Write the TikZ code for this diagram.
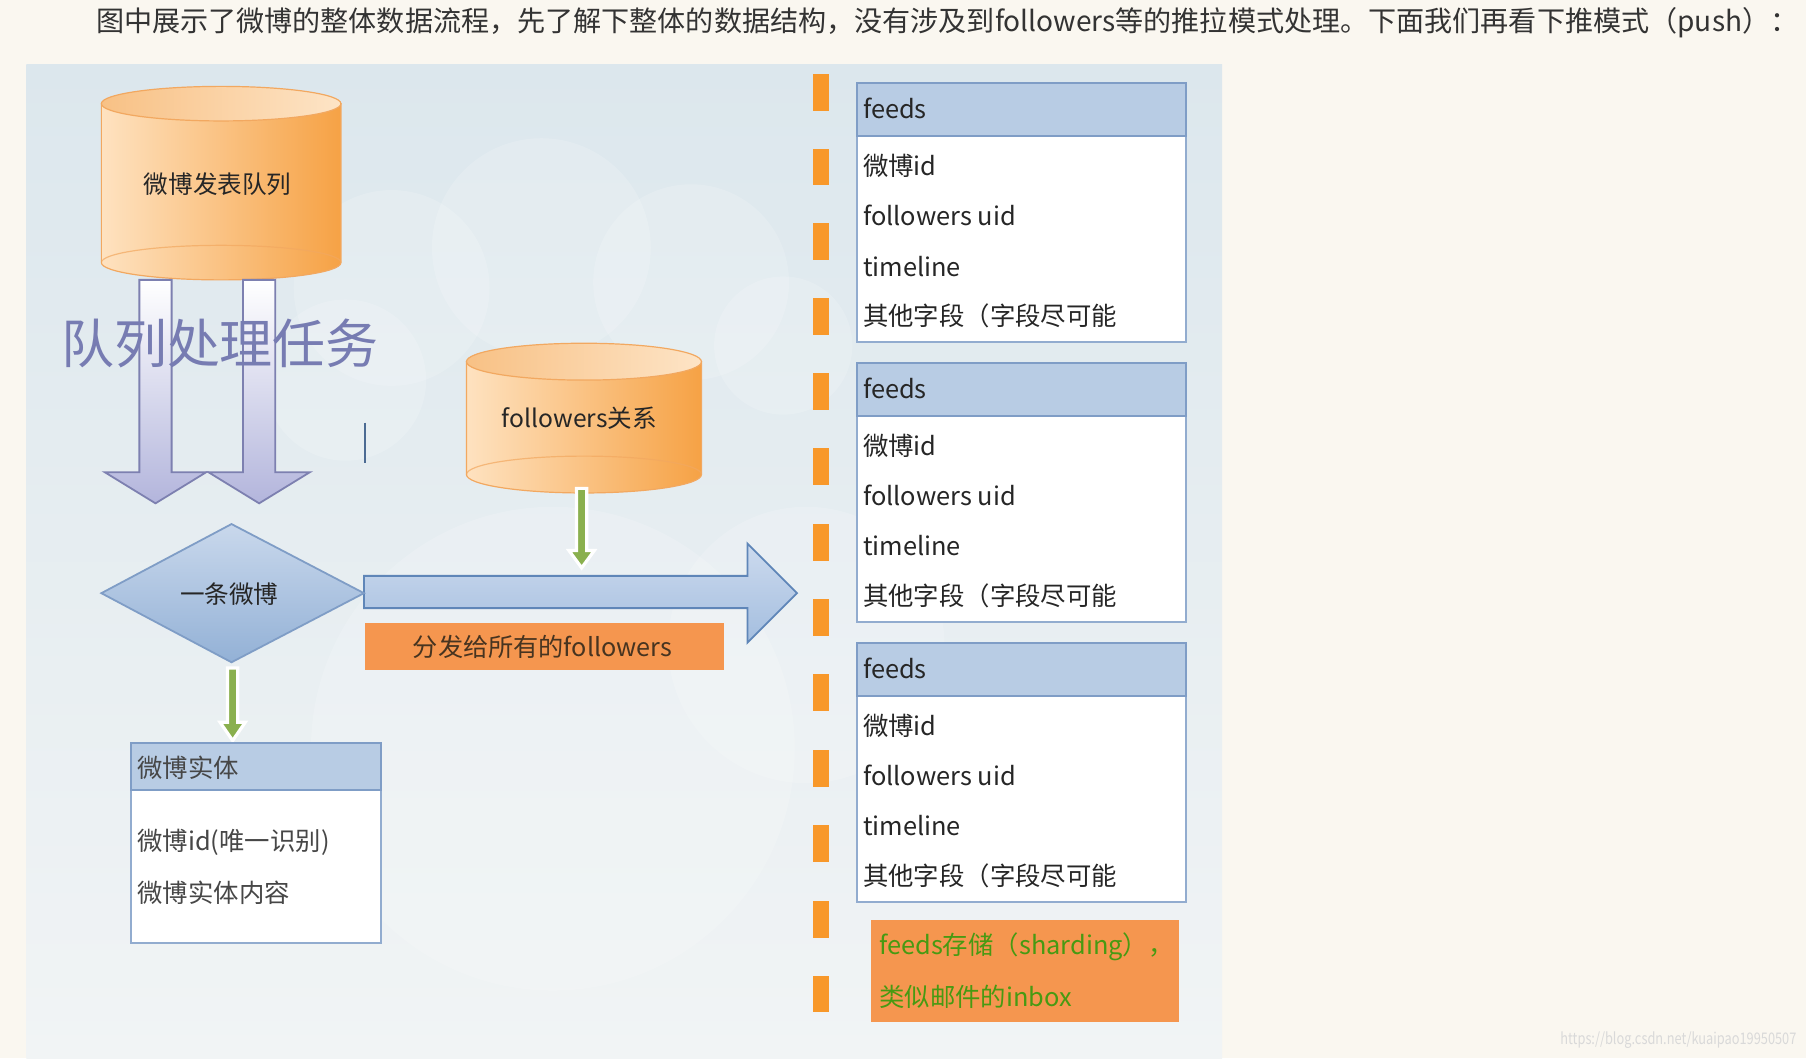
\documentclass[tikz,border=0pt]{standalone}
\usepackage{fontspec}
\usepackage{graphicx}
\setmainfont{Noto Sans CJK SC}
\usetikzlibrary{shapes.geometric}
\definecolor{pagebg}{HTML}{FAF7F0}
\definecolor{paneltop}{HTML}{DCE7ED}
\definecolor{panelbot}{HTML}{F1F4F5}
\definecolor{cylL}{HTML}{FEE2C0}
\definecolor{cylR}{HTML}{F6A245}
\definecolor{capL}{HTML}{F8C185}
\definecolor{capR}{HTML}{FDE4C6}
\definecolor{cylline}{HTML}{F2A860}
\definecolor{lavline}{HTML}{7D80B0}
\definecolor{lavfill}{HTML}{B3B5DC}
\definecolor{lavtext}{HTML}{777CB2}
\definecolor{hdrblue}{HTML}{B8CCE4}
\definecolor{boxline}{HTML}{7F9DC6}
\definecolor{diatop}{HTML}{C9D8EC}
\definecolor{diabot}{HTML}{93B1D6}
\definecolor{arrtop}{HTML}{CCDAEE}
\definecolor{arrbot}{HTML}{A4BEDF}
\definecolor{arrline}{HTML}{5F86B8}
\definecolor{grn}{HTML}{8AB04E}
\definecolor{orng}{HTML}{F5964F}
\definecolor{dashor}{HTML}{F8982A}
\definecolor{txt}{HTML}{262626}
\definecolor{hdrtxt}{HTML}{333333}
\definecolor{inboxtxt}{HTML}{479A12}
\newcommand\mycyl[5]{%
  \shade[left color=cylL, right color=cylR, draw=cylline, line width=0.6]
    (#1-#4,#2) -- (#1-#4,#3) arc[start angle=180, end angle=0, x radius=#4, y radius=#5] -- (#1+#4,#2) -- cycle;
  \draw[cylline, line width=0.6, opacity=0.7] (#1-#4,#3) arc[start angle=180, end angle=360, x radius=#4, y radius=#5];
  \shade[left color=capL, right color=capR, draw=cylline, line width=0.6] (#1,#2) ellipse[x radius=#4, y radius=#5];
}
\tikzset{
  tabhead/.style={fill=hdrblue, draw=boxline, line width=1.1},
  tabbody/.style={fill=white, draw=boxline!85, line width=1.1},
  rowtxt/.style={anchor=west, inner sep=0, text=txt, font=\fontsize{12.7pt}{14pt}\selectfont},
  lavarrow/.style={top color=white, bottom color=lavfill, draw=lavline, line width=0.9},
  grnarrow/.style={fill=grn, draw=white, line width=1.6},
  dashbar/.style={fill=dashor},
}
\begin{document}
\begin{tikzpicture}[x=0.576pt, y=-0.576pt]
\useasboundingbox (0,0) rectangle (1568,918.6);
\fill[pagebg] (0,0) rectangle (1568,918.6);
% header
\node[anchor=west, inner sep=0, text=hdrtxt, font=\fontsize{14.05pt}{15pt}\selectfont] (hdr) at (83,20)
  {图中展示了微博的整体数据流程，先了解下整体的数据结构，没有涉及到followers等的推拉模式处理。下面我们再看下推模式（push）：};
% panel
\shade[top color=paneltop, bottom color=panelbot] (23,56) rectangle (1061,918.6);
% faint clouds
\begin{scope}[white, opacity=0.16]
  \fill (340,250) circle[radius=85];
  \fill (470,215) circle[radius=95];
  \fill (600,245) circle[radius=85];
  \fill (300,330) circle[radius=70];
  \fill (680,300) circle[radius=60];
  \fill (480,650) ellipse[x radius=210, y radius=210];
  \fill (700,560) circle[radius=120];
\end{scope}
% cylinder 1
\mycyl{192}{90}{228}{104}{15}
\node[text=txt, font=\fontsize{12.3pt}{14pt}\selectfont] (q1) at (189,160) {微博发表队列};
% lavender arrows
\path[lavarrow] (121,243) -- (121,410) -- (91,410) -- (135,437) -- (179,410) -- (149,410) -- (149,243) -- cycle;
\path[lavarrow] (211,243) -- (211,410) -- (181,410) -- (225,437) -- (269,410) -- (239,410) -- (239,243) -- cycle;
\node[text=lavtext, font=\fontsize{26.5pt}{28pt}\selectfont, inner sep=0] (task) at (191,298) {队列处理任务};
% stray cursor line
\draw[color=arrline!80!black, line width=1.1] (317,367) coordinate (c1) -- (317,402) coordinate (c2);
% cylinder 2
\mycyl{507}{314}{412}{102}{16}
\node[text=txt, font=\fontsize{12.3pt}{14pt}\selectfont] (fol) at (503,363) {followers关系};
% green arrow from followers
\path[grnarrow] (500.5,424) -- (500.5,478) -- (494,478) -- (505,493) -- (516,478) -- (509.5,478) -- (509.5,424) -- cycle;
% big right arrow
\shade[top color=arrtop, bottom color=arrbot, draw=arrline, line width=0.9]
  (316,500) -- (649,500) -- (649,472) -- (692,515) -- (649,558) -- (649,528) -- (316,528) -- cycle;
% diamond
\shade[top color=diatop, bottom color=diabot, draw=boxline, line width=0.9]
  (88,515) -- (201,455) -- (316,515) -- (201,575) -- cycle;
\node[text=txt, font=\fontsize{12.3pt}{14pt}\selectfont] (one) at (199,516) {一条微博};
% label
\fill[orng] (317,541) rectangle (629,582);
\node[text=txt!85!orange, font=\fontsize{12.6pt}{14pt}\selectfont] (dist) at (471,562) {分发给所有的followers};
% green arrow down
\path[grnarrow] (197.5,580) -- (197.5,627) -- (191,627) -- (202,643) -- (213,627) -- (206.5,627) -- (206.5,580) -- cycle;
% entity box
\path[tabbody] (114,686) rectangle (331,819);
\path[tabhead] (114,645) rectangle (331,686);
\node[rowtxt, text=txt!85] (e0) at (119,667) {微博实体};
\node[rowtxt, text=txt!85] (e1) at (119,731) {微博id(唯一识别)};
\node[rowtxt, text=txt!85] (e2) at (119,775) {微博实体内容};
% orange dashes
\foreach \yy in {80,145,210,275,340,405,471,536,601,667,732,798,863}
  \fill[dashor] (706,\yy-16) rectangle (720,\yy+16);
% feeds tables
\foreach \t/\ty in {a/72, b/315, c/558} {
  \path[tabbody] (744,\ty+46) rectangle (1030,\ty+225);
  \path[tabhead] (744,\ty) rectangle (1030,\ty+46);
  \node[rowtxt] (\t0) at (749,\ty+22) {feeds};
  \node[rowtxt] (\t1) at (749,\ty+72) {微博id};
  \node[rowtxt] (\t2) at (749,\ty+115) {followers uid};
  \node[rowtxt] (\t3) at (749,\ty+159) {timeline};
  \node[rowtxt] (\t4) at (749,\ty+202) {其他字段（字段尽可能};
}
% inbox box
\fill[orng] (756,799) rectangle (1024,887);
\node[rowtxt, text=inboxtxt] (ib1) at (763,822) {feeds存储（sharding），};
\node[rowtxt, text=inboxtxt] (ib2) at (763,865) {类似邮件的inbox};
% watermark
\node[anchor=east, inner sep=0, text=black!15, font=\fontsize{8pt}{9pt}\selectfont] (wm) at (1560,903)
  {\scalebox{0.8}[1]{https://blog.csdn.net/kuaipao19950507}};
\end{tikzpicture}
\end{document}
